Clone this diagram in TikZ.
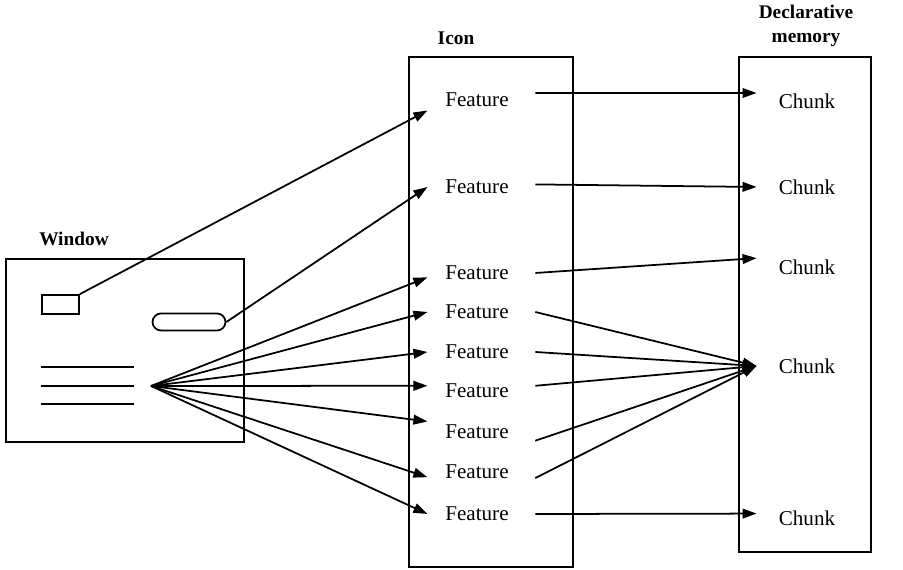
\documentclass[tikz,border=0pt]{standalone}
\usepackage{fontspec}
\setmainfont{Liberation Serif}
\usetikzlibrary{arrows.meta, shapes.misc, positioning}

\begin{document}
\begin{tikzpicture}[x=0.02cm, y=0.02cm,
	panel/.style={draw, line width=1pt, inner sep=0pt},
	heading/.style={font=\fontsize{11}{13.6}\selectfont\bfseries, align=center},
	feature/.style={font=\fontsize{12}{14}\selectfont, inner xsep=10pt},
	chunk/.style={font=\fontsize{12}{14}\selectfont, inner xsep=12.5pt},
	link/.style={line width=1pt, -{Triangle[length=8pt, width=5.5pt]}}]

	\useasboundingbox (0,0) rectangle (903,570);

	% Window with its widgets
	\node[heading] (wintitle) at (74,331) {Window};
	\node[panel, minimum width=4.76cm, minimum height=3.66cm] (window) at (125,219.5) {};
	\node[panel, minimum width=0.74cm, minimum height=0.38cm] (btn) at (60.5,265.5) {};
	\node[panel, rounded rectangle, minimum width=1.46cm, minimum height=0.34cm] (oval) at (189,248) {};
	\draw[line width=1pt] (41,203) -- (134,203);
	\draw[line width=1pt] (41,184) -- (134,184);
	\draw[line width=1pt] (41,166) -- (134,166);
	\coordinate (fan) at (151,184);

	% Icon
	\node[heading] (icontitle) at (456,532) {Icon};
	\node[panel, minimum width=3.28cm, minimum height=10.2cm] (icon) at (491,258) {};
	\node[feature] (f1) at (477,470) {Feature};
	\node[feature] (f2) at (477,383) {Feature};
	\node[feature] (f3) at (477,297) {Feature};
	\node[feature] (f4) at (477,258) {Feature};
	\node[feature] (f5) at (477,218) {Feature};
	\node[feature] (f6) at (477,179) {Feature};
	\node[feature] (f7) at (477,138) {Feature};
	\node[feature] (f8) at (477,98) {Feature};
	\node[feature] (f9) at (477,56) {Feature};

	% Declarative memory
	\node[heading] (memtitle) at (806,544) {Declarative\\memory};
	\node[panel, minimum width=2.64cm, minimum height=9.9cm] (memory) at (805,265.5) {};
	\node[chunk] (c1) at (807,469) {Chunk};
	\node[chunk] (c2) at (807,383) {Chunk};
	\node[chunk] (c3) at (807,303) {Chunk};
	\node[chunk] (c4) at (807,204) {Chunk};
	\node[chunk] (c5) at (807,52) {Chunk};

	% Window -> features
	\draw[link] (btn.north east) -- (f1.192);
	\draw[link] (oval.east) -- (f2.west);
	\draw[link] (fan) -- (f3.185);
	\draw[link] (fan) -- (f4.west);
	\draw[link] (fan) -- (f5.west);
	\draw[link] (fan) -- (f6.174);
	\draw[link] (fan) -- (f7.168);
	\draw[link] (fan) -- (f8.186);
	\draw[link] (fan) -- (f9.west);

	% Features -> chunks
	\draw[link] ([xshift=5pt]f1.8) -- (c1.171);
	\draw[link] ([xshift=5pt]f2.3) -- (c2.west);
	\draw[link] ([xshift=5pt]f3.east) -- (c3.170);
	\draw[link] ([xshift=5pt]f4.east) -- (c4.west);
	\draw[link] ([xshift=5pt]f5.east) -- (c4.west);
	\draw[link] ([xshift=5pt]f6.6) -- (c4.west);
	\draw[link] ([xshift=5pt]f7.350) -- (c4.west);
	\draw[link] ([xshift=5pt]f8.353) -- (c4.west);
	\draw[link] ([xshift=5pt]f9.east) -- (c5.175);

\end{tikzpicture}
\end{document}
